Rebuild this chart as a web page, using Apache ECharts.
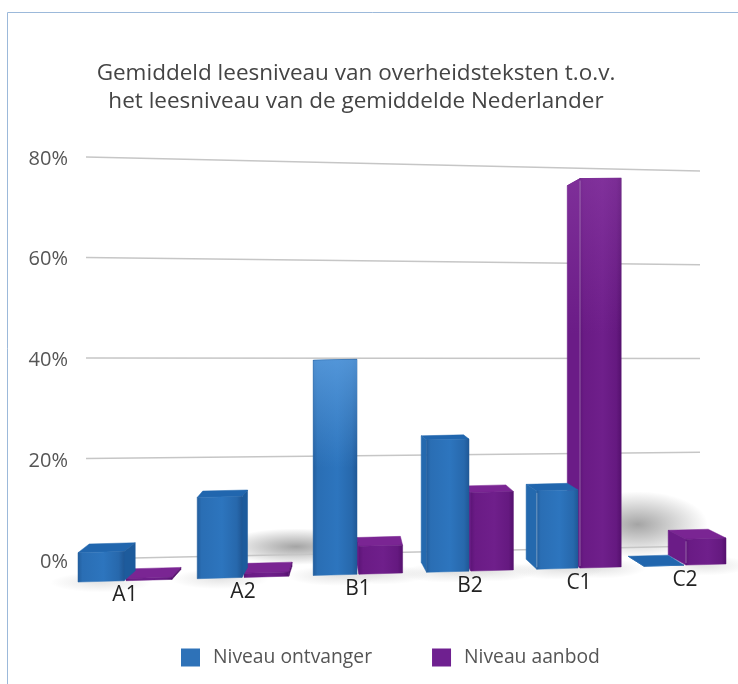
<!DOCTYPE html>
<html><head><meta charset="utf-8">
<style>html,body{margin:0;padding:0;background:#fff}#c{width:738px;height:684px}</style>
<script src="https://cdn.jsdelivr.net/npm/echarts@6/dist/echarts.min.js"></script>
</head><body><div id="c"></div>
<script>
const categories = ['A1','A2','B1','B2','C1','C2'];
const niveauOntvanger = [5.5,15.3,40.7,25.2,15,0];
const niveauAanbod = [0.4,0.8,5.3,15,74.7,5];
const tickValues = [0,20,40,60,80];
const titleText = 'Gemiddeld leesniveau van overheidsteksten t.o.v.\nhet leesniveau van de gemiddelde Nederlander';

const G = echarts.graphic;
const gridLeft = 86, gridRight = 700, gridTop = 159, gridBottom = 562;
const font = '"Open Sans","Noto Sans",sans-serif';

// perspective helpers
function catX(c){ return 125 + 118*c - 1.5*c*(c-1); }
function barW(c){ return 46 - 1.2*c; }
function baseY(x){ return 582 - 0.0279*(x-80); }
function kY(x){ return 1.06 - 0.00005*(x-80); }
function frontY(x,py){ return baseY(x) - (gridBottom-py)*kY(x); }
function wallY(t,py){
  const f=(gridBottom-py)/(gridBottom-gridTop);
  return (559+(546-559)*t) - f*(402+(375-402)*t);
}
function hGrad(stops){ return new G.LinearGradient(0,0,1,0,stops.map(s=>({offset:s[0],color:s[1]}))); }

const pal = {
  blue:{front:[[0,'#225d9c'],[0.1,'#2a6eb4'],[0.55,'#2d75be'],[0.88,'#2768ac'],[1,'#1f5795']],top:'#2166ae',side:'#1d5b9c',sideL:'#2469ae',hl:'94,160,225',hlA:0.75,hlEnd:0.5},
  purple:{front:[[0,'#5d1578'],[0.1,'#6a1b85'],[0.55,'#6f1f8b'],[0.88,'#651980'],[1,'#54106d']],top:'#7a2593',side:'#58126f',sideL:'#6b1c87',hl:'150,70,175',hlA:0.45,hlEnd:0.4}
};

function barRender(sign,p){
  return function(params,api){
    const c=api.value(0), py=api.coord([c,api.value(1)])[1];
    const w=barW(c), cx=catX(c)+sign*(w/2+1), xl=cx-w/2, xr=cx+w/2;
    const dx=(335-cx)*0.048;
    const by=x=>baseY(x), ty=x=>frontY(x,py);
    const h=by(cx)-ty(cx);
    const dyB=-10, dyT=-10+h*0.044;
    const children=[];
    const poly=(pts,fill)=>({type:'polygon',shape:{points:pts},style:{fill:fill,stroke:fill,lineWidth:0.5}});
    const hl=()=>new G.LinearGradient(0,0,0,1,[{offset:0,color:'rgba('+p.hl+','+p.hlA+')'},{offset:p.hlEnd,color:'rgba('+p.hl+',0)'}]);
    children.push(poly([[xl+dx,ty(xl)+dyT],[xr+dx,ty(xr)+dyT],[xr,ty(xr)],[xl,ty(xl)]],p.top));
    if(dx>0) children.push(poly([[xr,by(xr)],[xr+dx,by(xr)+dyB],[xr+dx,ty(xr)+dyT],[xr,ty(xr)]],p.side));
    if(dx<0){
      const pts=[[xl,by(xl)],[xl+dx,by(xl)+dyB],[xl+dx,ty(xl)+dyT],[xl,ty(xl)]];
      children.push(poly(pts,p.sideL));
      if(h>150) children.push({type:'polygon',shape:{points:pts},style:{fill:hl()}});
    }
    const fp=[[xl,by(xl)],[xr,by(xr)],[xr,ty(xr)],[xl,ty(xl)]];
    children.push(poly(fp,hGrad(p.front)));
    if(h>150) children.push({type:'polygon',shape:{points:fp},style:{fill:hl()}});
    if(dx<-8 && h>10){
      children.push({type:'line',shape:{x1:xl,y1:ty(xl)+2,x2:xl,y2:by(xl)-2},style:{stroke:'rgba(255,255,255,0.22)',lineWidth:1.5}});
    }
    return {type:'group',children};
  };
}
function softFill(a){
  return new G.RadialGradient(0.5,0.5,0.5,[{offset:0,color:'rgba(90,90,90,'+a+')'},{offset:0.5,color:'rgba(90,90,90,'+(a*0.5)+')'},{offset:1,color:'rgba(90,90,90,0)'}]);
}
function softBlob(x,y,rx,ry,a){
  return {type:'circle',x:x,y:y,scaleX:rx/ry,scaleY:1,shape:{cx:0,cy:0,r:ry},style:{fill:softFill(a)}};
}
function shadowRender(params,api){
  const c=api.value(0), s=api.value(2), v=api.value(1);
  const py=api.coord([c,v])[1];
  const w=barW(c), cx=catX(c)+s*(w/2+1);
  const b=baseY(cx), h=b-frontY(cx,py);
  const kids=[];
  if(h>150){
    const side=cx>340?1:-1, ry=h*0.085;
    kids.push(softBlob(cx+side*w*0.9,b-10-ry,w*1.7,ry,0.55));
  }
  if(h>10){
    kids.push(softBlob(cx,b+1,w*1.1,10,0.16));
  }
  return {type:'group',children:kids};
}
function wallRender(params,api){
  const py=api.coord([0,api.value(0)])[1];
  return {type:'line',shape:{x1:gridLeft,y1:wallY(0,py),x2:gridRight,y2:wallY(1,py)},
    style:{stroke:'#c6c6c6',lineWidth:1.4}};
}
function labelRender(params,api){
  const c=api.value(0), x=catX(c);
  return {type:'text',style:{x:x,y:595-0.0268*(x-125),text:categories[c],align:'center',verticalAlign:'middle',
    fill:'#222',font:'21px '+font}};
}

const chart=echarts.init(document.getElementById('c'),null,{renderer:'canvas'});
chart.setOption({
  animation:false,
  backgroundColor:'#fff',
  title:{text:titleText,left:351,top:55,textAlign:'center',
    textStyle:{color:'#444',fontSize:22.5,fontWeight:'normal',lineHeight:28,fontFamily:font}},
  legend:{left:176,top:643,itemWidth:19,itemHeight:18,itemGap:60,icon:'rect',
    data:['Niveau ontvanger','Niveau aanbod'],
    textStyle:{color:'#555',fontSize:19.3,fontFamily:font,padding:[0,0,0,8]}},
  grid:{left:gridLeft,top:gridTop,width:gridRight-gridLeft,height:gridBottom-gridTop},
  xAxis:{type:'category',data:categories,show:false},
  yAxis:{type:'value',min:0,max:80,interval:20,
    axisLine:{show:false},axisTick:{show:false},splitLine:{show:false},
    axisLabel:{formatter:'{value}%',color:'#555',fontSize:20,margin:18,fontFamily:font}},
  graphic:[{type:'polyline',silent:true,shape:{points:[[7.5,684],[7.5,12.5],[738,12.5]]},
    style:{stroke:'#9cb9da',lineWidth:1,fill:null}}],
  series:[
    {type:'custom',name:'schaduw',renderItem:shadowRender,clip:false,silent:true,z:1,
      data:niveauOntvanger.map((v,i)=>[i,v,-1]).concat(niveauAanbod.map((v,i)=>[i,v,1]))},
    {type:'custom',name:'raster',renderItem:wallRender,clip:false,silent:true,z:2,
      data:tickValues.map(v=>[v])},
    {type:'custom',name:'labels',renderItem:labelRender,clip:false,silent:true,z:3,
      data:categories.map((n,i)=>[i])},
    {type:'custom',name:'Niveau aanbod',renderItem:barRender(1,pal.purple),clip:false,z:4,
      itemStyle:{color:'#6f2090'},data:niveauAanbod.map((v,i)=>[i,v])},
    {type:'custom',name:'Niveau ontvanger',renderItem:barRender(-1,pal.blue),clip:false,z:5,
      itemStyle:{color:'#2e72b8'},data:niveauOntvanger.map((v,i)=>[i,v])}
  ]
});
</script></body></html>
